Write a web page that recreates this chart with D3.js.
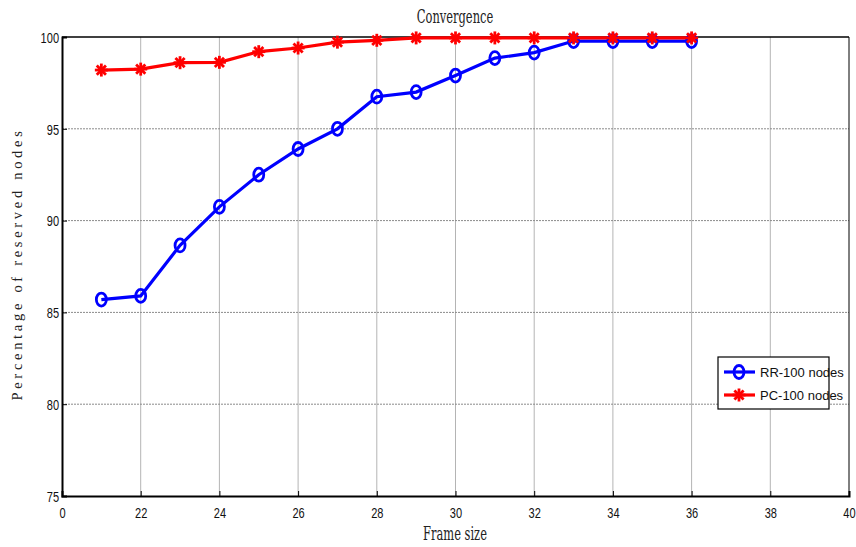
<!DOCTYPE html>
<html>
<head>
<meta charset="utf-8">
<script src="https://cdn.jsdelivr.net/npm/d3@7"></script>
<style>
  body { margin: 0; background: #fff; }
  .tick-label { font-family: "Liberation Sans Narrow", "Liberation Sans", Arial, sans-serif; font-size: 13px; fill: #111; }
  .title, .x-label { font-family: "DejaVu Serif Condensed", "Liberation Serif", serif; font-size: 15px; fill: #222; }
  .y-label { font-family: "Liberation Serif", serif; font-size: 14.5px; letter-spacing: 3.7px; fill: #222; }
  .legend-text { font-family: "Liberation Sans Narrow", "Liberation Sans", Arial, sans-serif; font-size: 13px; fill: #111; }
</style>
</head>
<body>
<div class="chart"></div>
<script>
// Data
const frameSizes = [21, 22, 23, 24, 25, 26, 27, 28, 29, 30, 31, 32, 33, 34, 35, 36];
const rrValues = [85.7, 85.9, 88.65, 90.75, 92.5, 93.9, 95.0, 96.75, 97.0, 97.9, 98.85, 99.15, 99.78, 99.78, 99.78, 99.78];
const pcValues = [98.2, 98.25, 98.6, 98.62, 99.2, 99.4, 99.72, 99.82, 99.95, 99.95, 99.95, 99.95, 99.95, 99.95, 99.95, 99.95];
const xTicks = [20, 22, 24, 26, 28, 30, 32, 34, 36, 38, 40];
const xTickLabels = ["0", "22", "24", "26", "28", "30", "32", "34", "36", "38", "40"];
const yTicks = [75, 80, 85, 90, 95, 100];
const seriesNames = ["RR-100 nodes", "PC-100 nodes"];

const W = 856, H = 547;
const margin = { top: 37, right: 7, bottom: 51, left: 62 };
const width = W - margin.left - margin.right,
    height = H - margin.top - margin.bottom;

const svg = d3.select(".chart").append("svg")
    .attr("width", W).attr("height", H);

const g = svg.append("g")
    .attr("transform", `translate(${margin.left},${margin.top})`);

const xScale = d3.scaleLinear().domain([20, 40]).range([0, width]);
const yScale = d3.scaleLinear().domain([75, 100]).range([height, 0]);

// grid
g.append("g").selectAll("line").data(xTicks.slice(1, -1)).enter().append("line")
    .attr("x1", d => xScale(d)).attr("x2", d => xScale(d))
    .attr("y1", 0).attr("y2", height)
    .attr("stroke", "#b4b4b4").attr("stroke-width", 1);
g.append("g").selectAll("line").data(yTicks.slice(1, -1)).enter().append("line")
    .attr("x1", 0).attr("x2", width)
    .attr("y1", d => yScale(d)).attr("y2", d => yScale(d))
    .attr("stroke", "#8a8a8a").attr("stroke-width", 1).attr("stroke-dasharray", "2,1");

// axes
const xAxis = d3.axisBottom(xScale).tickValues(xTicks).tickSize(-5).tickPadding(10)
    .tickFormat((d, i) => xTickLabels[i]);
const yAxis = d3.axisLeft(yScale).tickValues(yTicks).tickSize(-5).tickPadding(3);

const gx = g.append("g").attr("transform", `translate(0,${height})`).call(xAxis);
const gy = g.append("g").call(yAxis);
[gx, gy].forEach(a => {
    a.select(".domain").attr("stroke", "#000").attr("stroke-width", 2);
    a.selectAll(".tick line").attr("stroke", "#000");
    a.selectAll(".tick text").attr("class", "tick-label");
});
// tall narrow digits like the original
gx.selectAll(".tick text").attr("dy", "0.9em").attr("y", 7)
    .attr("transform", "scale(0.85,1.15)");
gy.selectAll(".tick text").attr("dy", "0.35em").attr("x", -3.5)
    .attr("transform", "scale(0.85,1.15)")
    .attr("y", 0);

// top and right border
g.append("line").attr("x1", 0).attr("x2", width).attr("y1", 0).attr("y2", 0)
    .attr("stroke", "#000").attr("stroke-width", 1.5);
g.append("line").attr("x1", width).attr("x2", width).attr("y1", 0).attr("y2", height)
    .attr("stroke", "#000").attr("stroke-width", 1);

// series
const line = d3.line().x(d => xScale(d[0])).y(d => yScale(d[1]));
const rrData = frameSizes.map((f, i) => [f, rrValues[i]]);
const pcData = frameSizes.map((f, i) => [f, pcValues[i]]);

function star(sel, color) {
    const r = 6.5;
    [0, 45, 90, 135].forEach(a => {
        sel.append("line")
            .attr("x1", -r).attr("x2", r).attr("y1", 0).attr("y2", 0)
            .attr("transform", `rotate(${a})`)
            .attr("stroke", color).attr("stroke-width", 2.8);
    });
}
function ring(sel, color) {
    sel.append("ellipse").attr("rx", 5).attr("ry", 6.5)
        .attr("fill", "none").attr("stroke", color).attr("stroke-width", 2.8);
}

g.append("path").datum(rrData).attr("d", line)
    .attr("fill", "none").attr("stroke", "#0000ff").attr("stroke-width", 3.2);
g.append("path").datum(pcData).attr("d", line)
    .attr("fill", "none").attr("stroke", "#ff0000").attr("stroke-width", 3.2);

g.append("g").selectAll("g").data(rrData).enter().append("g")
    .attr("transform", d => `translate(${xScale(d[0])},${yScale(d[1])})`)
    .each(function () { ring(d3.select(this), "#0000ff"); });
g.append("g").selectAll("g").data(pcData).enter().append("g")
    .attr("transform", d => `translate(${xScale(d[0])},${yScale(d[1])})`)
    .each(function () { star(d3.select(this), "#ff0000"); });

// labels
svg.append("text").attr("class", "title")
    .attr("x", 455).attr("y", 23).attr("text-anchor", "middle")
    .attr("transform", "translate(455,23) scale(0.85,1.2) translate(-455,-23)")
    .text("Convergence");
svg.append("text").attr("class", "x-label")
    .attr("x", 455).attr("y", 540).attr("text-anchor", "middle")
    .attr("transform", "translate(455,540) scale(0.85,1.2) translate(-455,-540)")
    .text("Frame size");
svg.append("text").attr("class", "y-label")
    .attr("text-anchor", "middle")
    .attr("transform", "translate(22,264) rotate(-90)")
    .text("Percentage of reserved nodes");

// legend
const lg = svg.append("g").attr("transform", "translate(718,357)");
lg.append("rect").attr("width", 111).attr("height", 52)
    .attr("fill", "#fff").attr("stroke", "#000").attr("stroke-width", 1.2);
const markers = [ring, star], colors = ["#0000ff", "#ff0000"];
seriesNames.forEach((name, i) => {
    const y = 15 + i * 23;
    lg.append("line").attr("x1", 6).attr("x2", 37).attr("y1", y).attr("y2", y)
        .attr("stroke", colors[i]).attr("stroke-width", 3.2);
    markers[i](lg.append("g").attr("transform", `translate(21,${y})`), colors[i]);
    lg.append("text").attr("class", "legend-text")
        .attr("x", 42).attr("y", y).attr("dy", "0.35em").text(name);
});
</script>
</body>
</html>
